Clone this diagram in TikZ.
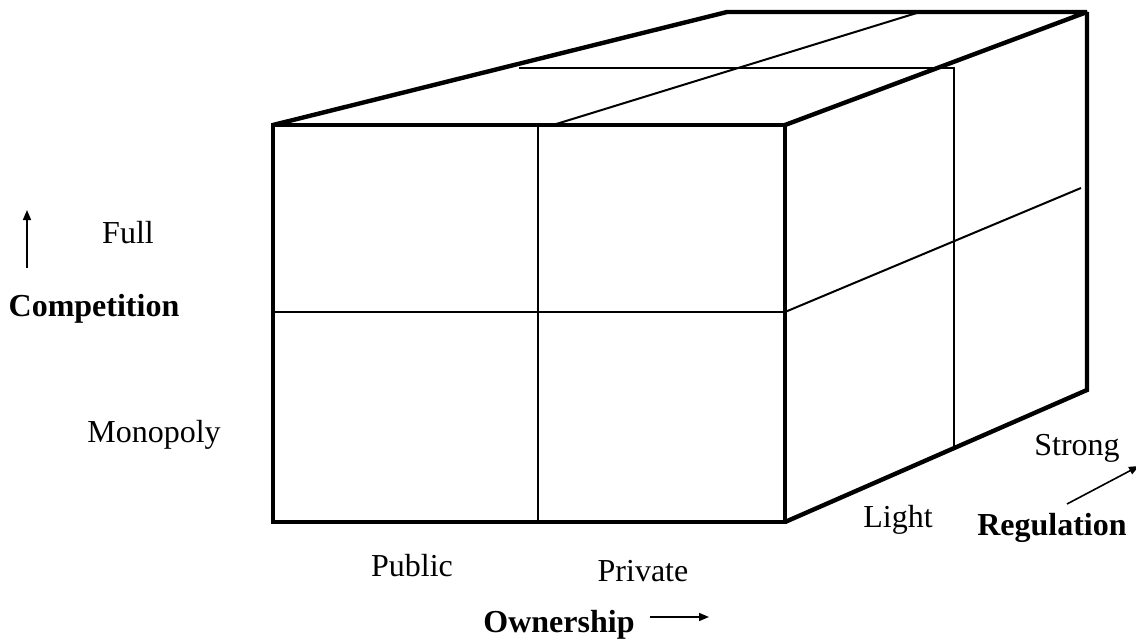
\documentclass[tikz,border=0pt]{standalone}
\usepackage{fontspec}
\setmainfont{Liberation Serif}
\usetikzlibrary{arrows.meta}

\begin{document}
\begin{tikzpicture}[x=0.5pt, y=-0.5pt,
  edge/.style={line width=2.2pt, line join=miter, miter limit=1.5},
  grid/.style={line width=1pt},
  axis/.style={-{Triangle[length=5pt, width=4pt]}, line width=0.8pt},
  lbl/.style={font=\fontsize{16}{19}\selectfont, inner sep=0pt},
  ttl/.style={font=\fontsize{16}{19}\selectfont\bfseries, inner sep=0pt},
]
  \useasboundingbox (0,0) rectangle (1136,642);

  % corners of the box
  \coordinate (ftl) at (273,125);
  \coordinate (ftr) at (785,125);
  \coordinate (fbr) at (785,522);
  \coordinate (fbl) at (273,522);
  \coordinate (btl) at (727,12);
  \coordinate (btr) at (1087,12);
  \coordinate (bbr) at (1087,390);

  % inner lines
  \draw[grid] (538,125) -- (538,522);
  \draw[grid] (273,312) -- (785,312);
  \draw[grid] (553,125) -- (920,12);
  \draw[grid] (519,68) -- (954,68) -- (954,447);
  \draw[grid] (785,312) -- (1081,188);

  % outline
  \draw[edge] (ftl) -- (ftr) -- (fbr) -- (fbl) -- cycle;
  \draw[edge] (ftl) -- (btl) -- (btr) -- (ftr);
  \draw[edge] (btr) -- (bbr) -- (fbr);

  % labels
  \node[lbl] (full) at (128,233) {Full};
  \node[ttl] (comp) at (94,309) {Competition};
  \node[lbl] (mono) at (154,435) {Monopoly};
  \node[lbl] (pub) at (412,566) {Public};
  \node[lbl] (priv) at (643,571) {Private};
  \node[ttl] (own) at (559,625) {Ownership};
  \node[lbl] (light) at (898,520) {Light};
  \node[lbl] (strong) at (1077,448) {Strong};
  \node[ttl] (reg) at (1052,528) {Regulation};

  % axis arrows
  \coordinate (comp0) at (27,268);
  \coordinate (comp1) at (27,210);
  \coordinate (own0) at (650,617);
  \coordinate (own1) at (709,617);
  \coordinate (reg0) at (1067,504);
  \coordinate (reg1) at (1139,466);
  \draw[axis] (comp0) -- (comp1);
  \draw[axis] (own0) -- (own1);
  \draw[axis] (reg0) -- (reg1);
\end{tikzpicture}
\end{document}
